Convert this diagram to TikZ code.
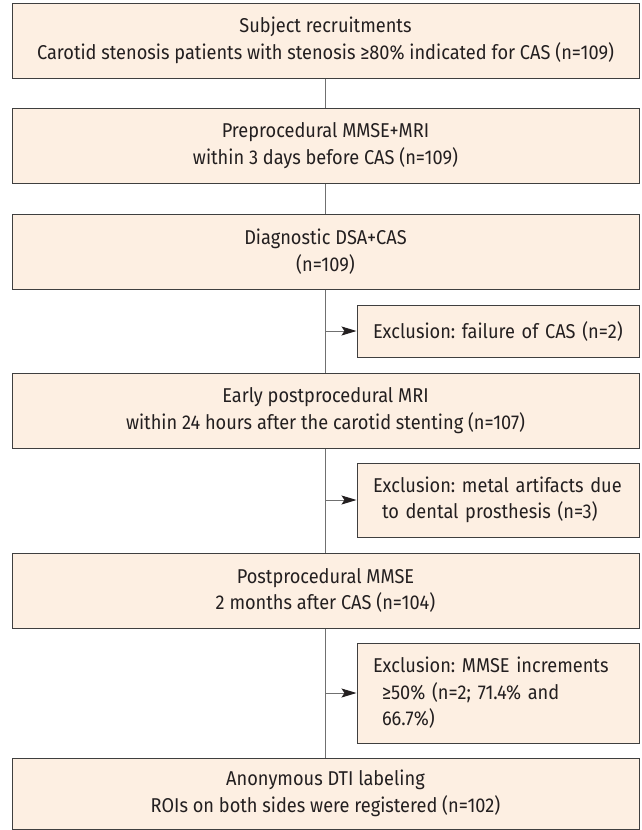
\documentclass[tikz,border=0pt]{standalone}
\usepackage{fontspec}
\setmainfont[FakeStretch=0.91]{Fira Sans}
\usetikzlibrary{arrows.meta}
\definecolor{boxfill}{HTML}{FDEFE2}
\definecolor{boxline}{HTML}{3F3F3F}
\definecolor{linkc}{HTML}{707070}
\definecolor{txt}{HTML}{231F20}
\begin{document}
\frenchspacing
\begin{tikzpicture}[x=1pt,y=-1pt,
  boxfont/.style={font=\fontsize{20}{26.5}\selectfont},
  mainbox/.style={draw=boxline, fill=boxfill, line width=1pt, minimum width=627pt,
    minimum height=75pt, inner sep=0pt, align=center, text=txt, boxfont},
  exclbox/.style={draw=boxline, fill=boxfill, line width=1pt, text width=250pt,
    inner xsep=16pt, inner ysep=0pt, align=left, text=txt, boxfont},
  link/.style={draw=linkc, line width=1pt},
  arr/.style={link, -{Stealth[length=15pt,width=9pt,inset=3pt,color=txt]}}]
\useasboundingbox (0,0) rectangle (641,830);

\node[mainbox] (b1) at (325.5,40.5) {Subject recruitments\\Carotid stenosis patients with stenosis ≥80\% indicated for CAS (n=109)};
\node[mainbox] (b2) at (325.5,145.5) {Preprocedural MMSE+MRI\\within 3 days before CAS (n=109)};
\node[mainbox] (b3) at (325.5,251.5) {Diagnostic DSA+CAS\\(n=109)};
\node[mainbox] (b4) at (325.5,410.5) {Early postprocedural MRI\\within 24 hours after the carotid stenting (n=107)};
\node[mainbox] (b5) at (325.5,590.5) {Postprocedural MMSE\\2 months after CAS (n=104)};
\node[mainbox, minimum height=71pt] (b6) at (325.5,793.5) {Anonymous DTI labeling\\ROIs on both sides were registered (n=102)};

\node[exclbox, minimum height=52pt] (e1) at (498,331) {Exclusion: failure of CAS (n=2)};
\node[exclbox, minimum height=74pt] (e2) at (498,500) {Exclusion: metal artifacts due\\\hspace*{9pt}to dental prosthesis (n=3)};
\node[exclbox, minimum height=100pt] (e3) at (498,693) {Exclusion: MMSE increments\\\hspace*{9pt}≥50\% (n=2; 71.4\% and\\\hspace*{9pt}66.7\%)};

\draw[link] (b1.south) -- (b2.north);
\draw[link] (b2.south) -- (b3.north);
\draw[link] (b3.south) -- (b4.north);
\draw[link] (b4.south) -- (b5.north);
\draw[link] (b5.south) -- (b6.north);

\draw[arr] (b3.south |- e1.west) -- (e1.west);
\draw[arr] (b4.south |- e2.west) -- (e2.west);
\draw[arr] (b5.south |- e3.west) -- (e3.west);
\end{tikzpicture}
\end{document}
